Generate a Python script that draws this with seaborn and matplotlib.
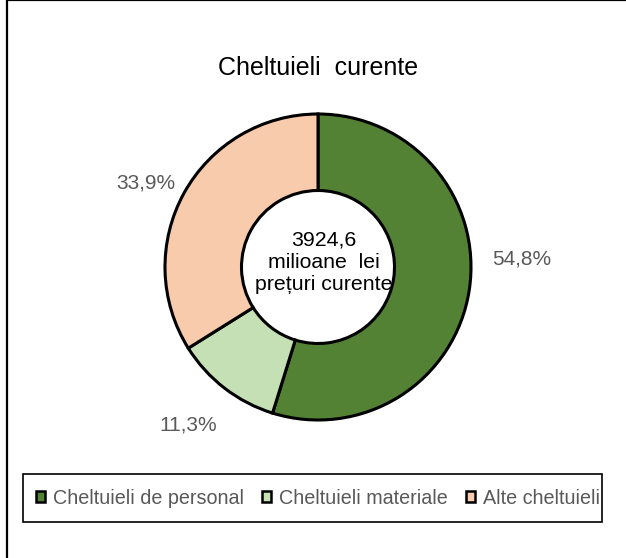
import numpy as np
import matplotlib
matplotlib.use("Agg")
import matplotlib.pyplot as plt
import seaborn as sns
from matplotlib.patches import Patch, Rectangle

# Data
categories = ["Cheltuieli de personal", "Cheltuieli materiale", "Alte cheltuieli"]
shares = [54.8, 11.3, 33.9]
pct_labels = ["54,8%", "11,3%", "33,9%"]
colors = ["#548235", "#C5E0B4", "#F8CBAD"]
title = "Cheltuieli  curente"
center_text = "3924,6\nmilioane  lei\nprețuri curente"

sns.set_style("white")
plt.rcParams["font.family"] = ["Liberation Sans", "DejaVu Sans"]

W, H = 626, 558
fig = plt.figure(figsize=(W / 100, H / 100), dpi=100)

def fx(px):
    return px / W

def fy(py):
    return 1 - py / H

# outer frame (cut at right/bottom like the reference)
fig.patches.append(Rectangle((fx(7), fy(640)), fx(700), 640 / H, transform=fig.transFigure,
                             fill=False, edgecolor="black", linewidth=1.6))

# pie axes: centre (318, 267), radius 153 px, pie limits are +-1.25
cx, cy, r = 318, 267, 153
half = 1.25 * r
ax = fig.add_axes([fx(cx - half), fy(cy + half), 2 * half / W, 2 * half / H])

wedges, _ = ax.pie(shares, colors=colors, startangle=90, counterclock=False,
                   wedgeprops=dict(width=0.5, edgecolor="black", linewidth=2.2))

# outside labels, nudged like the original layout (radius, angle offset)
label_layout = [(1.33, 11.0), (1.34, -1.8), (1.25, 3.0)]
for w, txt, (rad, dang) in zip(wedges, pct_labels, label_layout):
    ang = np.deg2rad((w.theta1 + w.theta2) / 2 + dang)
    ax.text(rad * np.cos(ang), rad * np.sin(ang), txt, ha="center", va="center",
            fontsize=15, color="#595959")

ax.text(0.04, 0.03, center_text, ha="center", va="center", fontsize=15.3,
        color="black", linespacing=1.2)

fig.text(fx(318), fy(68), title, ha="center", va="center", fontsize=18, color="black")

# legend box
fig.patches.append(Rectangle((fx(23), fy(522)), fx(602 - 23), (522 - 474) / H,
                             transform=fig.transFigure, fill=False,
                             edgecolor="black", linewidth=1.2))
handles = [Patch(facecolor=c, edgecolor="black", linewidth=1.8) for c in colors]
leg = fig.legend(handles, categories, loc="center", bbox_to_anchor=(fx(318), fy(498)),
                 ncol=3, frameon=False, fontsize=14.2, handlelength=0.45, handleheight=0.45,
                 handletextpad=0.4, columnspacing=0.95, borderpad=0)
for t in leg.get_texts():
    t.set_color("#595959")

fig.savefig("out.png", dpi=100)
